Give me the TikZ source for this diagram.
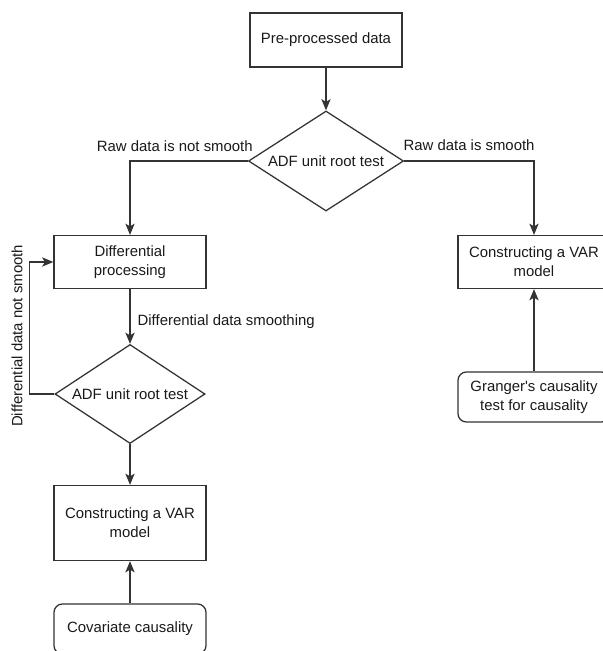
\documentclass[tikz,border=0pt]{standalone}
\usepackage{fontspec}
\setmainfont{Liberation Sans}[Ligatures=TeXOff]
\usetikzlibrary{shapes.geometric,arrows.meta,positioning}
\tikzset{
  stepbox/.style={ % plain process box
    draw=black!80, rectangle, line width=0.9pt,
    minimum width=3.8cm, minimum height=1.325cm,
    align=center, text=black!90, inner sep=2pt
  },
  endbox/.style={ % rounded box for the tests
    stepbox, rounded corners=6pt, minimum height=1.25cm
  },
  testdia/.style={ % decision diamond
    draw=black!80, diamond, line width=0.9pt, shape aspect=2,
    inner sep=0pt, text=black!90
  },
  lbl/.style={ % label on a connector
    text=black!90, inner sep=0pt
  },
  arrow/.style={
    draw=black!80, line width=0.9pt, -{Stealth[length=8pt,width=6.6pt,inset=2pt]}
  }
}

\begin{document}
\begin{tikzpicture}[x=0.025cm, y=-0.025cm, font=\fontsize{10.6pt}{13.5pt}\selectfont]
  \useasboundingbox (0,0) rectangle (603,651);
  \clip (0,0) rectangle (603,651);

  % top of the flow
  \node[stepbox, minimum height=1.35cm] (pre) at (326,40) {Pre-processed data};
  \node[testdia, minimum width=3.875cm, minimum height=2.5cm] (adf1) at (326,161) {ADF unit root test};

  % left branch
  \node[stepbox] (diff) at (130,262) {Differential\\processing};
  \node[testdia, minimum width=3.75cm, minimum height=2.475cm] (adf2) at (130,394) {ADF unit root test};
  \node[stepbox, minimum height=1.875cm] (varL) at (130,523) {Constructing a VAR\\model};
  \node[endbox] (cov) at (130,629) {Covariate causality};

  % right branch
  \node[stepbox] (varR) at (534,262) {Constructing a VAR\\model};
  \node[endbox] (granger) at (534,397) {Granger's causality\\test for causality};

  \draw[arrow] (pre) -- (adf1);
  \draw[arrow] (adf1.west) -| node[lbl, pos=0.31, anchor=base, yshift=7pt] (notsmooth) {Raw data is not smooth} (diff.north);
  \draw[arrow] (adf1.east) -| node[lbl, pos=0.25, anchor=base, yshift=7.5pt] (smooth) {Raw data is smooth} (varR.north);
  \draw[arrow] (diff) -- node[lbl, pos=0.59, anchor=west, xshift=5pt] (diffsmooth) {Differential data smoothing} (adf2);
  \draw[arrow] (adf2.west) -- ++(-25,0) |- node[lbl, pos=0.22, rotate=90, anchor=base, yshift=5pt] (diffnot) {Differential data not smooth} (diff.west);
  \draw[arrow] (adf2) -- (varL);
  \draw[arrow] (cov) -- (varL);
  \draw[arrow] (granger) -- (varR);
\end{tikzpicture}
\end{document}
